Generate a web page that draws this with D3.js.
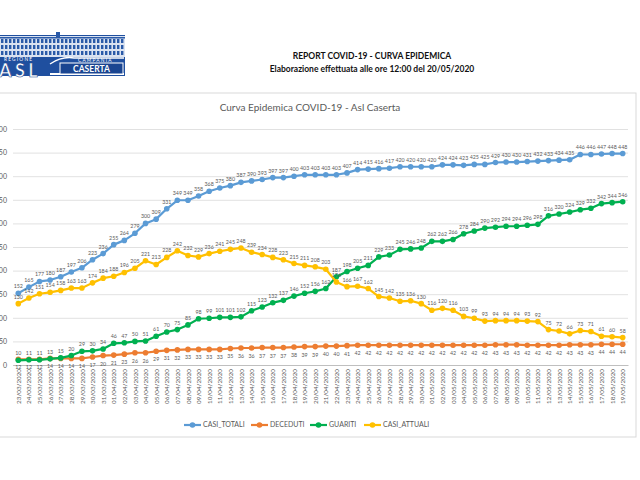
<!DOCTYPE html>
<html><head><meta charset="utf-8">
<script src="https://cdn.jsdelivr.net/npm/d3@7"></script>
<style>body{margin:0;background:#fff}svg{display:block}text{font-family:Lato,"Open Sans",sans-serif}</style>
</head><body>
<svg id="c" width="640" height="480"></svg>
<script>
const dates = ["23/03/2020","24/03/2020","25/03/2020","26/03/2020","27/03/2020","28/03/2020","29/03/2020","30/03/2020","31/03/2020",
"01/04/2020","02/04/2020","03/04/2020","04/04/2020","05/04/2020","06/04/2020","07/04/2020","08/04/2020","09/04/2020","10/04/2020",
"11/04/2020","12/04/2020","13/04/2020","14/04/2020","15/04/2020","16/04/2020","17/04/2020","18/04/2020","19/04/2020","20/04/2020",
"21/04/2020","22/04/2020","23/04/2020","24/04/2020","25/04/2020","26/04/2020","27/04/2020","28/04/2020","29/04/2020","30/04/2020",
"01/05/2020","02/05/2020","03/05/2020","04/05/2020","05/05/2020","06/05/2020","07/05/2020","08/05/2020","09/05/2020","10/05/2020",
"11/05/2020","12/05/2020","13/05/2020","14/05/2020","15/05/2020","16/05/2020","17/05/2020","18/05/2020","19/05/2020"];
const casiTotali = [152,165,177,180,187,197,206,223,236,255,264,279,300,309,331,349,349,358,368,375,380,387,390,393,397,397,400,403,403,403,403,407,414,415,416,417,420,420,420,420,424,424,423,425,425,429,430,430,431,432,433,434,435,446,446,447,448,448];
const deceduti = [12,12,12,14,14,14,14,17,20,21,23,26,26,29,31,32,33,33,33,33,35,36,36,37,37,37,38,39,39,40,40,41,42,42,42,42,42,42,42,42,42,42,42,42,42,43,43,43,42,42,42,42,43,43,43,44,44,44];
const guariti = [10,11,11,13,15,20,29,30,34,46,47,50,51,61,70,75,85,98,99,101,101,102,115,123,132,137,146,152,156,162,187,198,205,211,229,233,245,246,248,262,262,266,278,284,290,292,294,294,296,298,316,320,324,329,332,342,344,346];
const casiAttuali = [130,142,151,154,158,163,163,174,184,188,196,205,221,213,228,242,232,229,236,241,245,248,239,234,228,223,215,211,208,203,176,166,167,162,145,142,135,136,130,116,120,116,103,99,93,94,94,94,93,92,75,72,66,73,71,61,60,58];
const yTicks = [0,50,100,150,200,250,300,350,400,450,500];
const seriesNames = ["CASI_TOTALI","DECEDUTI","GUARITI","CASI_ATTUALI"];
const seriesValues = [casiTotali, deceduti, guariti, casiAttuali];
const seriesColors = ["#5B9BD5","#ED7D31","#00B050","#FFC000"];
const labelBelow = [false, true, false, false];

const svg = d3.select("#c");

// ---- logo ----
const logo = svg.append("g");
logo.append("rect").attr("x",0).attr("y",35).attr("width",125).attr("height",41).attr("fill","#1f4f9f");
logo.append("rect").attr("x",0).attr("y",36).attr("width",125).attr("height",21).attr("fill","#dbe3f1");
logo.append("rect").attr("x",56).attr("y",32).attr("width",4).attr("height",5).attr("fill","#2a5aa8");
for (let r = 0; r < 3; r++) {
  for (let c = 0; c < 31; c++) {
    logo.append("rect").attr("x", 1 + c*4).attr("y", 39 + r*6).attr("width",2.4).attr("height",4)
      .attr("fill","#2a5aa8");
  }
}
logo.append("rect").attr("x",0).attr("y",37).attr("width",125).attr("height",1.5).attr("fill","#2a5aa8");
logo.append("path").attr("d","M50 64 Q62 56 74 58 L124 58").attr("fill","none").attr("stroke","#fff").attr("stroke-width",1.5);
logo.append("text").attr("x",4).attr("y",61).attr("fill","#fff").attr("font-size",4.8).attr("letter-spacing",1.2).text("REGIONE");
logo.append("text").attr("x",78).attr("y",62).attr("fill","#fff").attr("font-size",4.8).attr("letter-spacing",1.2).text("CAMPANIA");
logo.append("text").attr("x",-1).attr("y",76.5).attr("fill","#fff").attr("stroke","#1a4591").attr("stroke-width",0.6)
  .attr("font-size",18).attr("font-weight","bold").attr("letter-spacing",3.5).text("ASL");
logo.append("rect").attr("x",50).attr("y",73).attr("width",74).attr("height",2).attr("fill","#fff");
logo.append("rect").attr("x",60).attr("y",63).attr("width",63).attr("height",11).attr("fill","#1a4591").attr("stroke","#fff").attr("stroke-width",1);
logo.append("text").attr("x",91.5).attr("y",71.5).attr("text-anchor","middle").attr("fill","#fff").attr("font-size",8.5).attr("font-weight","bold").text("CASERTA");

// ---- header ----
svg.append("text").attr("x",372).attr("y",59).attr("text-anchor","middle").attr("font-size",8.5).attr("font-weight","bold").attr("fill","#111")
  .text("REPORT COVID-19 - CURVA EPIDEMICA");
svg.append("text").attr("x",372).attr("y",72).attr("text-anchor","middle").attr("font-size",8.5).attr("font-weight","bold").attr("fill","#111")
  .text("Elaborazione effettuata alle ore 12:00 del 20/05/2020");

// ---- chart box ----
svg.append("rect").attr("x",-10).attr("y",93).attr("width",646).attr("height",344).attr("fill","#fff").attr("stroke","#d9d9d9").attr("stroke-width",1);
svg.append("text").attr("x",310).attr("y",111).attr("text-anchor","middle").attr("font-size",10).attr("fill","#595959")
  .text("Curva Epidemica COVID-19 - Asl Caserta");

const x = d3.scalePoint().domain(dates).range([13,628]).padding(0.5);
const y = d3.scaleLinear().domain([0,500]).range([365,129]);

const yAxis = svg.append("g").attr("transform","translate(13,0)")
  .call(d3.axisLeft(y).tickValues(yTicks).tickSize(-615).tickPadding(6));
yAxis.select(".domain").remove();
yAxis.selectAll(".tick line").attr("stroke","#d9d9d9").attr("stroke-width",0.8);
yAxis.selectAll(".tick text").attr("fill","#595959").attr("font-size",7).attr("font-family","Lato");
yAxis.selectAll(".tick").filter(d => d === 0).select("line").attr("stroke","#bfbfbf");

const xAxis = svg.append("g").attr("transform","translate(0,365)")
  .call(d3.axisBottom(x).tickSize(0).tickPadding(0));
xAxis.select(".domain").attr("stroke","#bfbfbf");
xAxis.selectAll(".tick text").attr("fill","#595959").attr("font-size",6.3).attr("font-family","Lato")
  .attr("text-anchor","end").attr("transform","rotate(-90)").attr("x",-4).attr("y",0).attr("dy","0.33em");

const line = d3.line().x((d,i) => x(dates[i])).y(d => y(d));
seriesValues.forEach((vals, s) => {
  svg.append("path").datum(vals).attr("d", line).attr("fill","none").attr("stroke",seriesColors[s]).attr("stroke-width",2.2).attr("stroke-linejoin","round");
  svg.append("g").selectAll("circle").data(vals).join("circle")
    .attr("cx",(d,i) => x(dates[i])).attr("cy", d => y(d)).attr("r",2.8).attr("fill",seriesColors[s]);
});
seriesValues.forEach((vals, s) => {
  svg.append("g").selectAll("text").data(vals).join("text")
    .attr("x",(d,i) => x(dates[i])).attr("y", d => y(d) + (labelBelow[s] ? 10 : -5))
    .attr("text-anchor","middle").attr("font-size",5.3).attr("fill","#595959").text(d => d);
});

// ---- legend ----
const legendX = [184, 251, 310, 364];
const lg = svg.append("g");
seriesNames.forEach((n, s) => {
  const g = lg.append("g").attr("transform", `translate(${legendX[s]},425)`);
  g.append("line").attr("x1",0).attr("x2",17).attr("y1",0).attr("y2",0).attr("stroke",seriesColors[s]).attr("stroke-width",2.2);
  g.append("circle").attr("cx",8.5).attr("cy",0).attr("r",2.8).attr("fill",seriesColors[s]);
  g.append("text").attr("x",19).attr("y",0).attr("dy","0.35em").attr("font-size",7).attr("fill","#595959").text(n);
});
</script>
</body></html>
